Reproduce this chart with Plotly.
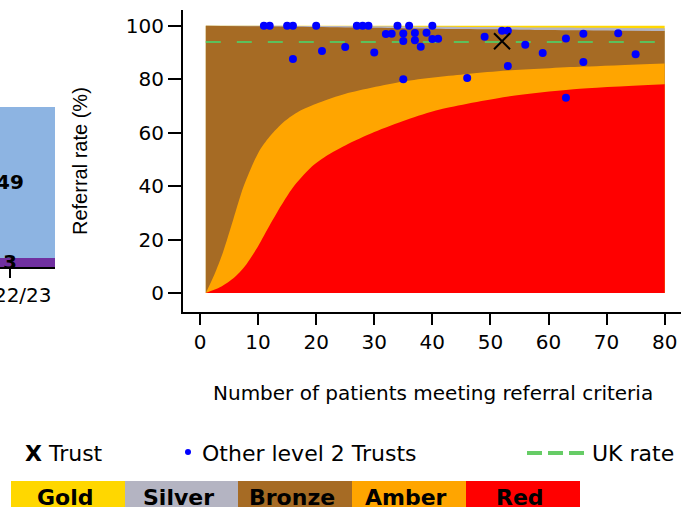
import plotly.graph_objects as go

W, H = 681, 507

# ---------------- data ----------------
# funnel band boundaries
gold_x = [1, 80]
gold_top = [100, 100]
silver_x = [1, 10, 20, 30, 40, 50, 60, 70, 80]
silver_top = [100, 100, 99.9, 99.8, 99.6, 99.5, 99.3, 99.2, 99.0]
bronze_x = [1, 10, 20, 30, 40, 50, 60, 70, 80]
bronze_top = [100, 99.8, 99.5, 99.2, 98.9, 98.7, 98.4, 98.2, 98.0]
amber_x = [1, 2.5, 4, 5.7, 7.5, 10, 12, 14.6, 17, 20, 24.5, 35, 46, 53, 66, 80]
amber_top = [0, 7, 15.5, 27.3, 39.8, 52.3, 58.5, 64.3, 67.9, 70.8, 74.2, 79.1, 81.9, 83.2, 84.7, 85.9]
red_x = [1, 3.5, 6, 8, 10, 12, 14, 16, 19, 22, 25, 30, 35.6, 41.3, 52.8, 64.3, 80]
red_top = [0, 2.2, 6, 10.8, 17.5, 25.3, 32.8, 39.5, 46.8, 51.6, 55.2, 60.2, 64.8, 68.6, 73.4, 76.2, 78.1]

uk_x = [1, 80]
uk_rate = [93.9, 93.9]

other_n = [11, 12, 15, 16, 20, 27, 28, 29, 34, 36, 40, 32, 33, 35, 37, 39, 35, 37, 40, 41,
           16, 21, 25, 30, 38, 49, 52, 53, 56, 59, 63, 66, 72, 75, 66, 53, 46, 35, 63]
other_rate = [100, 100, 100, 100, 100, 100, 100, 100, 100, 100, 100, 96.9, 97.0, 97.1, 97.3, 97.4, 94.3, 94.6, 95.0, 95.1,
              87.5, 90.5, 92.0, 90.0, 92.1, 95.9, 98.1, 98.1, 92.9, 89.8, 95.2, 97.0, 97.2, 89.3, 86.4, 84.9, 80.4, 80.0, 73.0]

trust_n = [52]
trust_rate = [94.2]

x_ticks = [0, 10, 20, 30, 40, 50, 60, 70, 80]
y_ticks = [0, 20, 40, 60, 80, 100]

# left (cut-off) bar chart
bar_cat = ["2022/23"]
bar_bottom_vals = [3]
bar_top_vals = [49]

band_names = ["Gold", "Silver", "Bronze", "Amber", "Red"]
band_colors = ["#FFD700", "#B4B4C2", "#A66B24", "#FFA500", "#FF0000"]

FONT = "DejaVu Sans"


def px(x):
    return x / W


def py(y):
    return 1 - y / H


fig = go.Figure()

# ---------------- funnel bands ----------------
for xs, ys, col in [(gold_x, gold_top, band_colors[0]),
                    (silver_x, silver_top, band_colors[1]),
                    (bronze_x, bronze_top, band_colors[2]),
                    (amber_x, amber_top, band_colors[3]),
                    (red_x, red_top, band_colors[4])]:
    fig.add_trace(go.Scatter(x=xs, y=ys, fill="tozeroy", mode="lines",
                             line=dict(width=0, shape="spline", smoothing=0.8),
                             fillcolor=col, hoverinfo="skip", showlegend=False,
                             xaxis="x", yaxis="y"))

fig.add_trace(go.Scatter(x=uk_x, y=uk_rate, mode="lines",
                         line=dict(color="#5CC05C", width=2, dash="15px,16px"),
                         showlegend=False, xaxis="x", yaxis="y"))

fig.add_trace(go.Scatter(x=other_n, y=other_rate, mode="markers",
                         marker=dict(color="#0000FF", size=8, line=dict(width=0)),
                         showlegend=False, xaxis="x", yaxis="y"))

fig.add_trace(go.Scatter(x=trust_n, y=trust_rate, mode="markers",
                         marker=dict(symbol="x-thin", size=16, line=dict(color="black", width=2)),
                         showlegend=False, xaxis="x", yaxis="y"))

# ---------------- left bar chart ----------------
fig.add_trace(go.Bar(x=bar_cat, y=bar_bottom_vals, marker=dict(color="#7030A0", line=dict(width=0)),
                     width=1.636, xaxis="x2", yaxis="y2", showlegend=False))
fig.add_trace(go.Bar(x=bar_cat, y=bar_top_vals, marker=dict(color="#8DB4E2", line=dict(width=0)),
                     width=1.636, xaxis="x2", yaxis="y2", showlegend=False))

annotations = []
# bar value labels
cum = 0
for v in [bar_bottom_vals[0], bar_top_vals[0]]:
    annotations.append(dict(x=bar_cat[0], y=cum + v / 2, xref="x2", yref="y2", text=f"<b>{v}</b>",
                            showarrow=False, font=dict(family=FONT, size=20, color="black"),
                            xanchor="center", yanchor="middle"))
    cum += v

# axis titles
annotations.append(dict(x=px(80), y=py(161), xref="paper", yref="paper", text="Referral rate (%)",
                        textangle=-90, showarrow=False,
                        font=dict(family="Liberation Sans, Arial", size=20, color="black"),
                        xanchor="center", yanchor="middle"))
annotations.append(dict(x=px(432.5), y=py(393), xref="paper", yref="paper",
                        text="Number of patients meeting referral criteria",
                        showarrow=False, font=dict(family=FONT, size=20, color="black"),
                        xanchor="center", yanchor="middle"))

# legend row
annotations.append(dict(x=px(23), y=py(453), xref="paper", yref="paper", text="<b>X</b> Trust",
                        showarrow=False, font=dict(family=FONT, size=22, color="black"),
                        xanchor="left", yanchor="middle"))
annotations.append(dict(x=px(200), y=py(453), xref="paper", yref="paper", text="Other level 2 Trusts",
                        showarrow=False, font=dict(family=FONT, size=22, color="black"),
                        xanchor="left", yanchor="middle"))
annotations.append(dict(x=px(590), y=py(453), xref="paper", yref="paper", text="UK rate",
                        showarrow=False, font=dict(family=FONT, size=22, color="black"),
                        xanchor="left", yanchor="middle"))

shapes = []
shapes.append(dict(type="circle", xref="paper", yref="paper",
                   x0=px(185), x1=px(191), y0=py(455), y1=py(449),
                   fillcolor="#0000FF", line=dict(width=0)))
shapes.append(dict(type="line", xref="paper", yref="paper",
                   x0=px(527), x1=px(585), y0=py(453), y1=py(453),
                   line=dict(color="#66CC66", width=4, dash="15px,6px")))

# colour key boxes
box_edges = [11, 125, 238, 352, 466, 580]
for i, (name, col) in enumerate(zip(band_names, band_colors)):
    x0, x1 = box_edges[i], box_edges[i + 1]
    shapes.append(dict(type="rect", xref="paper", yref="paper",
                       x0=px(x0), x1=px(x1), y0=py(510), y1=py(481),
                       fillcolor=col, line=dict(width=0), layer="below"))
    annotations.append(dict(x=px((x0 + x1) / 2 - 3), y=py(497), xref="paper", yref="paper",
                            text=f"<b>{name}</b>", showarrow=False,
                            font=dict(family=FONT, size=22, color="black"),
                            xanchor="center", yanchor="middle"))

fig.update_layout(
    width=W, height=H,
    margin=dict(l=0, r=0, t=0, b=0, pad=0),
    paper_bgcolor="white", plot_bgcolor="white",
    showlegend=False, barmode="stack",
    xaxis=dict(domain=[183 / W, 1], range=[-2.927, 82.81], anchor="y", automargin=False,
               showline=True, linecolor="black", linewidth=2,
               ticks="outside", ticklen=11, tickwidth=2, tickcolor="black",
               tickvals=x_ticks, showgrid=False, zeroline=False,
               tickfont=dict(family=FONT, size=20, color="black")),
    yaxis=dict(domain=[1 - 312 / H, 1 - 10 / H], range=[-7.11, 105.87], anchor="x", automargin=False,
               showline=True, linecolor="black", linewidth=2,
               ticks="outside", ticklen=13, tickwidth=2, tickcolor="black",
               tickvals=y_ticks, showgrid=False, zeroline=False,
               tickfont=dict(family=FONT, size=20, color="black")),
    xaxis2=dict(domain=[0, 55 / W], range=[-0.1818, 0.8182], anchor="y2", type="category",
                automargin=False,
                showline=True, linecolor="black", linewidth=2,
                ticks="outside", ticklen=9, tickwidth=2, tickcolor="black",
                showgrid=False, zeroline=False,
                tickfont=dict(family=FONT, size=20, color="black")),
    yaxis2=dict(domain=[1 - 267 / H, 1 - 100 / H], range=[0, 54.2], anchor="x2", automargin=False,
                visible=False, showgrid=False, zeroline=False),
    annotations=annotations,
    shapes=shapes,
)

fig.write_html("out.html",
               config={"displayModeBar": False},
               post_script="document.body.style.margin='0';document.body.style.overflow='hidden';")
